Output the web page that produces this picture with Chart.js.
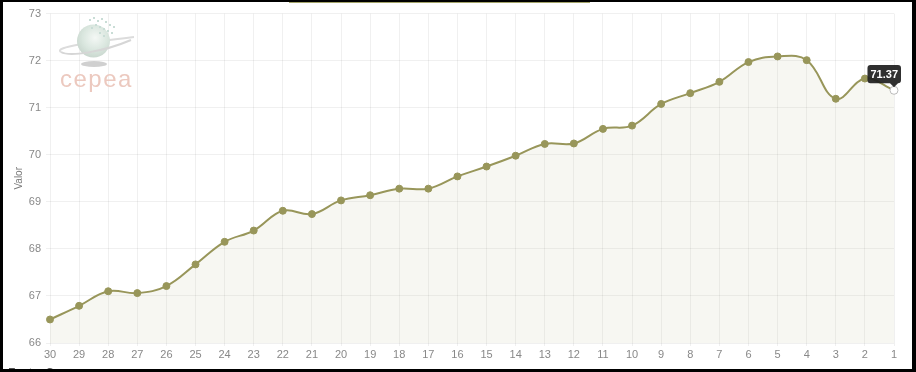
<!DOCTYPE html>
<html>
<head>
<meta charset="utf-8">
<script src="https://cdn.jsdelivr.net/npm/chart.js@4.4.0/dist/chart.umd.min.js"></script>
<style>
  html, body { margin: 0; padding: 0; background: #fff; }
  #frame {
    position: relative; width: 916px; height: 372px; box-sizing: border-box;
    border-style: solid; border-color: #000; border-width: 2px 4px 3px 3px;
    overflow: hidden; background: #fff;
  }
  #c { position: absolute; left: 0; top: 0; }
  #legendStrip { position: absolute; left: 286px; top: 0; width: 301px; height: 1px; background: #a4a46a; }
  #logo { position: absolute; left: 0; top: 0; pointer-events: none; }
  #source { position: absolute; left: 5px; top: 364px; font: 12px "Liberation Sans", Arial, sans-serif; color: #555; }
</style>
</head>
<body>
<div id="frame">
  <canvas id="c" width="909" height="367"></canvas>
  <div id="legendStrip"></div>
  <svg id="logo" width="160" height="100" viewBox="0 0 160 100">
    <defs>
      <radialGradient id="gl" cx="0.55" cy="0.4" r="0.65">
        <stop offset="0" stop-color="#f4f8f5"/>
        <stop offset="0.6" stop-color="#d9e6de"/>
        <stop offset="1" stop-color="#c6d4cb"/>
      </radialGradient>
    </defs>
    <ellipse cx="91" cy="62" rx="13" ry="3" fill="#c4c4c4" opacity="0.8"/>
    <path d="M58,50 C50,45 90,40 131,35" stroke="#dcdcdc" stroke-width="2" fill="none"/>
    <circle cx="90.5" cy="39" r="16.5" fill="url(#gl)"/>
    <g fill="#c9ddd6">
      <rect x="86" y="17" width="2" height="2"/><rect x="90" y="15" width="2" height="2"/><rect x="94" y="18" width="2" height="2"/>
      <rect x="98" y="16" width="2" height="2"/><rect x="102" y="19" width="2" height="2"/><rect x="106" y="22" width="2" height="2"/>
      <rect x="110" y="24" width="2" height="2"/><rect x="92" y="22" width="2" height="2"/><rect x="96" y="24" width="2" height="2"/>
      <rect x="100" y="26" width="2" height="2"/><rect x="104" y="28" width="2" height="2"/><rect x="88" y="25" width="2" height="2"/>
      <rect x="96" y="30" width="2" height="2"/><rect x="100" y="33" width="2" height="2"/><rect x="108" y="30" width="2" height="2"/>
    </g>
    <path d="M58,50 C66,55 100,50 128,38" stroke="#d6d6d6" stroke-width="2" fill="none"/>
    <text x="57" y="85" font-family="Liberation Sans, Arial, sans-serif" font-size="24" letter-spacing="1.5" fill="#ecc9bf">cepea</text>
  </svg>
  <div id="source">Fonte: Cepea</div>
</div>
<script>
const labels = ['30','29','28','27','26','25','24','23','22','21','20','19','18','17','16','15','14','13','12','11','10','9','8','7','6','5','4','3','2','1'];
const valores = [66.50, 66.79, 67.10, 67.06, 67.21, 67.67, 68.15, 68.39, 68.81, 68.74, 69.03, 69.14, 69.28, 69.28, 69.54, 69.75, 69.98, 70.23, 70.24, 70.55, 70.62, 71.08, 71.31, 71.55, 71.97, 72.09, 72.01, 71.19, 71.62, 71.37];
const yMin = 66, yMax = 73;
const seriesName = 'Valor';

const olive = 'rgb(152,150,90)';
const fontFam = '"Liberation Sans", Arial, sans-serif';

const chart = new Chart(document.getElementById('c'), {
  type: 'line',
  data: {
    labels: labels,
    datasets: [{
      label: seriesName,
      data: valores,
      borderColor: olive,
      backgroundColor: 'rgba(150,150,90,0.08)',
      fill: 'start',
      borderWidth: 2,
      tension: 0.4,
      pointRadius: 3.5,
      pointBackgroundColor: olive,
      pointBorderColor: olive,
      pointBorderWidth: 1,
      pointHoverRadius: 4,
      pointHoverBackgroundColor: '#fff',
      pointHoverBorderColor: '#bbb',
      pointHoverBorderWidth: 1
    }]
  },
  options: {
    responsive: false,
    animation: false,
    events: [],
    layout: { padding: { left: 6, top: 9, right: 18, bottom: 6 } },
    plugins: {
      legend: { display: false },
      tooltip: {
        enabled: true,
        backgroundColor: 'rgba(30,30,30,0.92)',
        displayColors: false,
        xAlign: 'right',
        yAlign: 'bottom',
        caretSize: 4,
        caretPadding: 3,
        cornerRadius: 3,
        padding: { left: 3, right: 3, top: 3, bottom: 2 },
        bodyFont: { family: fontFam, size: 11, weight: 'bold' },
        bodyColor: '#fff',
        callbacks: {
          title: () => '',
          label: (ctx) => ctx.parsed.y.toFixed(2)
        }
      }
    },
    scales: {
      x: {
        offset: false,
        grid: { color: 'rgba(0,0,0,0.06)', tickLength: 3, drawTicks: true },
        border: { display: false },
        ticks: { color: '#888', font: { family: fontFam, size: 11 }, padding: 2, maxRotation: 0, autoSkip: false },
        afterFit: (s) => { s.height = 20; }
      },
      y: {
        min: yMin, max: yMax,
        grid: { color: 'rgba(0,0,0,0.06)', tickLength: 4, drawTicks: true },
        border: { display: false },
        ticks: { stepSize: 1, color: '#888', font: { family: fontFam, size: 11 }, padding: 5 },
        title: { display: true, text: seriesName, color: '#777', font: { family: fontFam, size: 10 }, padding: { top: 4, bottom: 0 } },
        afterFit: (s) => { s.width = 41; }
      }
    }
  }
});

const idx = valores.length - 1;
const pt = chart.getDatasetMeta(0).data[idx];
chart.setActiveElements([{ datasetIndex: 0, index: idx }]);
chart.tooltip.setActiveElements([{ datasetIndex: 0, index: idx }], { x: pt.x, y: pt.y });
chart.update();
</script>
</body>
</html>
